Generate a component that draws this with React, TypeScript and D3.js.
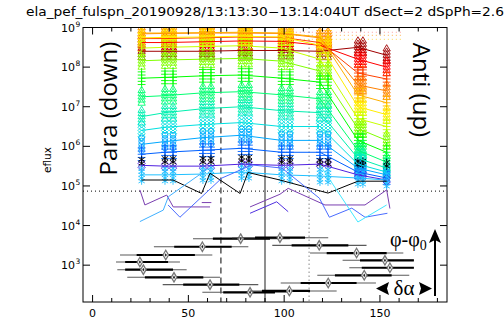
import React from 'react';
import * as d3 from 'd3';

const W = 504;
const H = 320;
const PLOT = { left: 83, right: 447, top: 27.5, bottom: 302 };

const titleText = 'ela_pef_fulspn_20190928/13:13:30\u221213:14:04UT dSect=2 dSpPh=2.6';
const yLabel = 'eflux';
const xDomain = [-5, 185];
const yDomain = [Math.pow(10, 2.07), 1e9];
const xMajorTicks = [0, 50, 100, 150];
const xMinorTicks = [10, 20, 30, 40, 60, 70, 80, 90, 110, 120, 130, 140, 160, 170, 180];
const yDecades = [3, 4, 5, 6, 7, 8, 9];
const lossConeLine = 67;
const perpLine = 90;
const antiLossConeLine = 113;
const oneCountLevel = 7.4e4;

// pitch angle columns of the sector measurements and the group each belongs to
const pitchAngles = [25.6, 37.8, 42.0, 57.6, 61.8, 77.8, 81.6, 98.7, 103.0, 118.7, 122.9, 138.5, 141.1, 153.5];
const columnGroup = [0, 1, 1, 2, 2, 3, 3, 4, 4, 5, 5, 6, 6, 7];
const groupPitch = [25.6, 37.8, 57.6, 77.8, 98.7, 118.7, 138.5, 153.5];

// log10 eflux per energy channel at each pitch-angle group
const ch00 = [8.40, 8.40, 8.40, 8.42, 8.42, 8.40, 8.50, 8.30];
const ch01 = [8.62, 8.62, 8.64, 8.66, 8.65, 8.55, 8.20, 8.00];
const ch02 = [8.72, 8.72, 8.74, 8.76, 8.75, 8.62, 7.85, 7.70];
const ch03 = [8.84, 8.85, 8.86, 8.86, 8.85, 8.74, 7.55, 7.40];
const ch04 = [8.86, 8.86, 8.87, 8.88, 8.86, 8.76, 7.30, 7.10];
const ch05 = [8.74, 8.75, 8.76, 8.78, 8.76, 8.55, 7.00, 6.80];
const ch06 = [8.48, 8.50, 8.52, 8.54, 8.48, 8.20, 6.70, 6.50];
const ch07 = [8.16, 8.18, 8.20, 8.22, 8.15, 7.90, 6.45, 6.15];
const ch08 = [7.72, 7.74, 7.78, 7.80, 7.72, 7.62, 6.15, 5.85];
const ch09 = [7.25, 7.28, 7.35, 7.38, 7.30, 7.20, 5.90, 5.60];
const ch10 = [6.75, 6.85, 6.95, 7.00, 6.90, 6.85, 5.70, 5.45];
const ch11 = [6.40, 6.48, 6.55, 6.60, 6.50, 6.50, 5.55, 5.35];
const ch12 = [6.05, 6.12, 6.22, 6.28, 6.15, 6.15, 5.45, 5.28];
const ch13 = [5.80, 5.85, 5.90, 5.95, 5.85, 5.85, 5.35, 5.20];
const ch14 = [5.52, 5.50, 5.50, 5.55, 5.52, 5.55, 5.28, 5.15];
const ch15 = [5.62, 5.65, 5.65, 5.68, 5.65, 5.60, 5.58, 5.55];
const ch16 = [5.28, 5.28, 5.30, 5.35, 5.28, 5.25, 5.20, 5.15];
const channelLevels = [ch00, ch01, ch02, ch03, ch04, ch05, ch06, ch07, ch08, ch09, ch10, ch11, ch12, ch13, ch14, ch15, ch16];
const channelColors = ['#a00000', '#ff0000', '#ff4000', '#ff8000', '#ffb000', '#ffee00', '#c8ff00', '#80ff00', '#00ff00', '#00ff70', '#00f0b0', '#00e0e0', '#00a8ff', '#0060ff', '#5020e0', '#000000', '#20c0ff'];
const channelSymbols = ['tri', 'tri', 'plus', 'tri', 'plus', 'tri', 'plus', 'tri', 'plus', 'tri', 'tri', 'diamond', 'circle', 'plus', 'diamond', 'asterisk', 'asterisk'];
const channelHasLine = [1, 1, 1, 1, 1, 1, 1, 1, 1, 1, 1, 1, 1, 1, 1, 0, 1];
// spread of individual spin samples around the channel level (decades)
const sampleSpread = [-0.16, -0.08, 0, 0.08, 0.16];
const sampleSpreadFew = [-0.05, 0.05];
const channelFewSamples = [0, 0, 0, 0, 0, 0, 0, 0, 0, 0, 0, 0, 0, 0, 1, 1, 0];

// low-flux channel traces (pitch angle, log10 eflux)
const lowBlackPA = [25.6, 42.0, 56.9, 61.3, 77.0, 81.1, 97.8, 122.9, 138.5, 153.5];
const lowBlackLog = [5.15, 5.15, 4.81, 5.32, 4.81, 5.34, 5.15, 4.82, 5.12, 5.12];
const lowPurpleAPA = [24.7, 27.3, 38.7, 42.1, 61.3];
const lowPurpleALog = [4.90, 4.52, 4.77, 4.47, 4.47];
const lowPurpleBPA = [82.2, 97.8, 102.1, 121.3, 142.2, 153.5, 155.2];
const lowPurpleBLog = [4.47, 4.79, 4.94, 4.52, 4.52, 4.90, 4.43];
const lowVioletPA = [82.2, 96.1, 102.1];
const lowVioletLog = [4.31, 4.60, 4.35];
const lowBluePA = [39.4, 45.6, 67.5, 83.2, 98.9, 118.4, 123.6, 135.3, 142.2, 153.9];
const lowBlueLog = [4.52, 4.21, 5.20, 5.53, 5.45, 4.69, 4.21, 4.44, 4.21, 4.31];
const lowSkyPA = [24.7, 36.9, 39.6, 60.4];
const lowSkyLog = [4.10, 4.39, 4.73, 5.44];
const lowCyanPA = [118.7, 138.5, 153.5];
const lowCyanLog = [5.53, 4.09, 4.52];
const lowDashPA = [57.0, 62.0];
const lowDashLog = [4.58, 4.58];

// pale dotted traces on the anti side
const dotPA = [104, 162];
const dotPinkLog = [8.88, 8.88];
const dotOrangeLog = [8.80, 8.80];
const dotYellowLog = [8.70, 8.70];

// spin-phase rows: centre pitch angle, phase, full and partial sector width
const leftPA = [77.3, 57.3, 38.2, 24.7, 26.5, 42.5, 61.3, 82.2];
const leftPhase = [87.6, 76.1, 64.3, 54.3, 43.3, 32.4, 21.9, 11.0];
const leftThinLo = [52.4, 32.0, 14.3, 12.2, 12.9, 18.1, 36.6, 57.3];
const leftThinHi = [103.0, 81.3, 62.5, 45.6, 49.1, 66.5, 86.5, 103.0];
const leftThickLo = [62.8, 42.6, 23.0, 17.0, 17.0, 27.3, 47.3, 68.2];
const leftThickHi = [92.6, 72.6, 53.4, 39.4, 42.0, 57.8, 76.6, 95.2];
const rightPA = [97.8, 118.3, 137.8, 152.6, 155.2, 141.8, 123.0, 102.7];
const rightPhase = [89.0, 78.1, 67.1, 56.7, 46.1, 35.3, 24.3, 12.9];
const rightThinLo = [72.8, 93.8, 113.5, 130.5, 134.0, 117.3, 98.2, 82.2];
const rightThinHi = [123.0, 143.0, 162.2, 167.7, 167.7, 165.3, 147.9, 127.4];
const rightThickLo = [84.8, 103.9, 122.2, 139.6, 140.5, 126.5, 108.6, 88.4];
const rightThickHi = [110.9, 133.5, 153.5, 167.7, 167.7, 156.1, 137.8, 113.5];

const x = d3.scaleLinear().domain(xDomain).range([PLOT.left, PLOT.right]);
const y = d3.scaleLog().domain(yDomain).range([PLOT.bottom, PLOT.top]);
const phaseY = d3.scaleLinear().domain([0, 100]).range([300, 230]);

const symbolPaths: Record<string, string> = {
  tri: d3.symbol().type(d3.symbolTriangle2).size(38)() as string,
  plus: d3.symbol().type(d3.symbolPlus).size(22)() as string,
  diamond: d3.symbol().type(d3.symbolDiamond2).size(34)() as string,
  circle: d3.symbol().type(d3.symbolCircle).size(26)() as string,
  asterisk: d3.symbol().type(d3.symbolAsterisk).size(36)() as string,
};

const lineGen = d3.line<[number, number]>().x((d) => x(d[0])).y((d) => y(Math.pow(10, d[1])));

function zipLine(pa: number[], lg: number[]) {
  return lineGen(pa.map((p, i) => [p, lg[i]] as [number, number])) as string;
}

const diamondOuter = d3.symbol().type(d3.symbolDiamond).size(26)() as string;
const diamondInner = d3.symbol().type(d3.symbolDiamond).size(4)() as string;

function PhaseRows({ pa, phase, thinLo, thinHi, thickLo, thickHi }: any) {
  return (
    <g>
      {pa.map((p: number, i: number) => {
        const yy = phaseY(phase[i]);
        return (
          <g key={i}>
            <line x1={x(thinLo[i])} x2={x(thinHi[i])} y1={yy} y2={yy} stroke="#5a5a5a" strokeWidth={1.1} />
            <line x1={x(thickLo[i])} x2={x(thickHi[i])} y1={yy} y2={yy} stroke="#000" strokeWidth={2.2} />
            <path d={diamondOuter} transform={`translate(${x(p)},${yy})`} fill="#fff" stroke="#777" strokeWidth={1.3} />
            <path d={diamondInner} transform={`translate(${x(p)},${yy})`} fill="#222" />
          </g>
        );
      })}
    </g>
  );
}

export default function App() {
  const symbolsEls: any[] = [];
  channelLevels.forEach((lv, c) => {
    const spread = channelFewSamples[c] ? sampleSpreadFew : sampleSpread;
    pitchAngles.forEach((pa, k) => {
      const base = lv[columnGroup[k]];
      spread.forEach((s, j) => {
        symbolsEls.push(
          <path
            key={`${c}-${k}-${j}`}
            d={symbolPaths[channelSymbols[c]]}
            transform={`translate(${x(pa)},${y(Math.pow(10, base + s))})`}
            fill="none"
            stroke={channelColors[c]}
            strokeWidth={0.9}
          />
        );
      });
    });
  });

  const lineEls = channelLevels.map((lv, c) =>
    channelHasLine[c] ? (
      <path key={c} d={zipLine(groupPitch, lv)} fill="none" stroke={channelColors[c]} strokeWidth={1} />
    ) : null
  );

  const lowLines = [
    { pa: lowBlackPA, lg: lowBlackLog, color: '#000000' },
    { pa: lowPurpleAPA, lg: lowPurpleALog, color: '#7a3fb0' },
    { pa: lowPurpleBPA, lg: lowPurpleBLog, color: '#7a3fb0' },
    { pa: lowVioletPA, lg: lowVioletLog, color: '#5030e0' },
    { pa: lowBluePA, lg: lowBlueLog, color: '#4a6cff' },
    { pa: lowSkyPA, lg: lowSkyLog, color: '#40b0ff' },
    { pa: lowCyanPA, lg: lowCyanLog, color: '#40e8ff' },
    { pa: lowDashPA, lg: lowDashLog, color: '#7a3fb0' },
  ];

  const dotLines = [
    { lg: dotPinkLog, color: '#ff9c9c' },
    { lg: dotOrangeLog, color: '#ffc070' },
    { lg: dotYellowLog, color: '#ffe070' },
  ];

  return (
    <svg width={W} height={H} style={{ display: 'block', position: 'absolute', left: 0, top: 0, background: '#fff' }}>
      <defs>
        <clipPath id="plotClip">
          <rect x={PLOT.left} y={PLOT.top} width={PLOT.right - PLOT.left} height={PLOT.bottom - PLOT.top} />
        </clipPath>
      </defs>
      <rect x={0} y={0} width={W} height={H} fill="#fff" />
      <text x={26} y={16} fontFamily="DejaVu Sans, sans-serif" fontSize={12} textLength={478} lengthAdjust="spacingAndGlyphs" fill="#000">
        {titleText}
      </text>

      <g clipPath="url(#plotClip)">
        <line x1={x(lossConeLine)} x2={x(lossConeLine)} y1={PLOT.top} y2={PLOT.bottom} stroke="#000" strokeWidth={1} strokeDasharray="6,4" />
        <line x1={x(perpLine)} x2={x(perpLine)} y1={PLOT.top} y2={PLOT.bottom} stroke="#444" strokeWidth={1.2} />
        <line x1={x(antiLossConeLine)} x2={x(antiLossConeLine)} y1={PLOT.top} y2={PLOT.bottom} stroke="#888" strokeWidth={1} strokeDasharray="1.5,2.5" />
        <line x1={PLOT.left} x2={PLOT.right} y1={y(oneCountLevel)} y2={y(oneCountLevel)} stroke="#000" strokeWidth={1} strokeDasharray="1,3" />

        {dotLines.map((d, i) => (
          <path key={i} d={zipLine(dotPA, d.lg)} fill="none" stroke={d.color} strokeWidth={1.2} strokeDasharray="1,3" />
        ))}

        {symbolsEls}
        {lineEls}
        {lowLines.map((l, i) => (
          <path key={i} d={zipLine(l.pa, l.lg)} fill="none" stroke={l.color} strokeWidth={1} />
        ))}

        <PhaseRows pa={leftPA} phase={leftPhase} thinLo={leftThinLo} thinHi={leftThinHi} thickLo={leftThickLo} thickHi={leftThickHi} />
        <PhaseRows pa={rightPA} phase={rightPhase} thinLo={rightThinLo} thinHi={rightThinHi} thickLo={rightThickLo} thickHi={rightThickHi} />
      </g>

      <rect x={PLOT.left} y={PLOT.top} width={PLOT.right - PLOT.left} height={PLOT.bottom - PLOT.top} fill="none" stroke="#000" strokeWidth={1} />

      {xMajorTicks.map((t) => (
        <g key={`xm${t}`}>
          <line x1={x(t)} x2={x(t)} y1={PLOT.bottom} y2={PLOT.bottom - 7} stroke="#000" />
          <line x1={x(t)} x2={x(t)} y1={PLOT.top} y2={PLOT.top + 7} stroke="#000" />
          <text x={x(t)} y={317} textAnchor="middle" fontFamily="DejaVu Sans, sans-serif" fontSize={11} fill="#000">
            {t}
          </text>
        </g>
      ))}
      {xMinorTicks.map((t) => (
        <g key={`xn${t}`}>
          <line x1={x(t)} x2={x(t)} y1={PLOT.bottom} y2={PLOT.bottom - 4} stroke="#000" />
          <line x1={x(t)} x2={x(t)} y1={PLOT.top} y2={PLOT.top + 4} stroke="#000" />
        </g>
      ))}

      {yDecades.map((e) => {
        const yy = y(Math.pow(10, e));
        return (
          <g key={`y${e}`}>
            <line x1={PLOT.left} x2={PLOT.left + 7} y1={yy} y2={yy} stroke="#000" />
            <line x1={PLOT.right} x2={PLOT.right - 7} y1={yy} y2={yy} stroke="#000" />
            <text x={75} y={yy + 4} textAnchor="end" fontFamily="DejaVu Sans, sans-serif" fontSize={11} fill="#000">
              10
            </text>
            <text x={75.5} y={yy - 1} textAnchor="start" fontFamily="DejaVu Sans, sans-serif" fontSize={7.5} fill="#000">
              {e}
            </text>
          </g>
        );
      })}

      <text transform={`translate(51,160) rotate(-90)`} textAnchor="middle" fontFamily="DejaVu Sans, sans-serif" fontSize={10.5} fill="#000">
        {yLabel}
      </text>

      <text transform={`translate(117,108.5) rotate(-90)`} textAnchor="middle" fontFamily="Open Sans, sans-serif" fontSize={24} fill="#000">
        Para (down)
      </text>
      <text transform={`translate(413,90) rotate(90)`} textAnchor="middle" fontFamily="Open Sans, sans-serif" fontSize={24} fill="#000">
        Anti (up)
      </text>

      <line x1={435} x2={435} y1={296} y2={240} stroke="#000" strokeWidth={2} />
      <path d="M435,229 L441,243 L435,240 L429,243 Z" fill="#000" />
      <text x={390} y={246} fontFamily="Liberation Serif, DejaVu Serif, serif" fontSize={20} fill="#000">
        {'\u03c6-\u03c6'}
        <tspan fontSize={14} dy={4}>0</tspan>
      </text>

      <path d="M376,288.5 L389,282 L387,288.5 L389,295 Z" fill="#000" />
      <path d="M432,288.5 L419,282 L421,288.5 L419,295 Z" fill="#000" />
      <text x={404} y={295} textAnchor="middle" fontFamily="Liberation Serif, DejaVu Serif, serif" fontSize={21} fill="#000">
        {'\u03b4\u03b1'}
      </text>
    </svg>
  );
}
